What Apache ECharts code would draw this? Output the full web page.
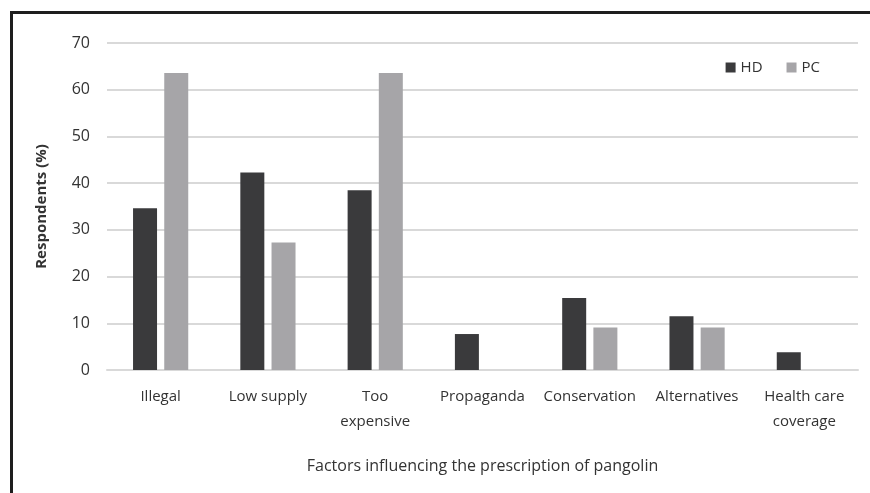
<!DOCTYPE html>
<html>
<head>
<meta charset="utf-8">
<script src="https://cdn.jsdelivr.net/npm/echarts@6/dist/echarts.min.js"></script>
<style>
html,body{margin:0;padding:0;background:#fff;}
#chart{width:870px;height:493px;}
</style>
</head>
<body>
<div id="chart"></div>
<script>
var categories = ['Illegal', 'Low supply', 'Too\nexpensive', 'Propaganda', 'Conservation', 'Alternatives', 'Health care\ncoverage'];
var hdValues = [34.6, 42.3, 38.5, 7.7, 15.4, 11.5, 3.8];
var pcValues = [63.6, 27.3, 63.6, 0, 9.1, 9.1, 0];
var yTicks = [0, 10, 20, 30, 40, 50, 60, 70];

var chart = echarts.init(document.getElementById('chart'));
var font = '"Open Sans", "Noto Sans", sans-serif';
chart.setOption({
  animation: false,
  backgroundColor: '#fff',
  graphic: [{
    type: 'rect',
    shape: {x: 11.5, y: 12.5, width: 900, height: 600},
    style: {fill: 'none', stroke: '#1e1e1e', lineWidth: 3},
    silent: true
  }],
  legend: {
    top: 55,
    right: 45,
    itemWidth: 10,
    itemHeight: 10,
    itemGap: 24,
    icon: 'rect',
    textStyle: {fontFamily: font, fontSize: 15, color: '#333'},
    data: ['HD', 'PC']
  },
  grid: {left: 107, right: 12, top: 43, bottom: 123, containLabel: false},
  xAxis: {
    type: 'category',
    data: categories,
    axisLine: {show: true, lineStyle: {color: '#d9d9d9', width: 2}},
    axisTick: {show: false},
    axisLabel: {fontFamily: font, fontSize: 15, color: '#333', margin: 14, lineHeight: 25, interval: 0},
    name: 'Factors influencing the prescription of pangolin',
    nameLocation: 'middle',
    nameGap: 88,
    nameTextStyle: {fontFamily: font, fontSize: 16, color: '#333'}
  },
  yAxis: {
    type: 'value',
    min: 0,
    max: 70,
    interval: 10,
    axisLine: {show: false},
    axisTick: {show: false},
    splitLine: {lineStyle: {color: '#d9d9d9', width: 2}},
    axisLabel: {
      fontFamily: font, fontSize: 16, color: '#333', margin: 17,
      formatter: function (v) { return yTicks.indexOf(v) >= 0 ? String(v) : ''; }
    },
    name: 'Respondents (%)',
    nameLocation: 'middle',
    nameGap: 58,
    nameRotate: 90,
    nameTextStyle: {fontFamily: font, fontSize: 15, color: '#333', fontWeight: 'bold'}
  },
  series: [{
    name: 'HD',
    type: 'bar',
    data: hdValues,
    barWidth: 24,
    barGap: '30%',
    itemStyle: {color: '#3a3a3c'}
  }, {
    name: 'PC',
    type: 'bar',
    data: pcValues,
    barWidth: 24,
    itemStyle: {color: '#a6a5a8'}
  }]
});
</script>
</body>
</html>
